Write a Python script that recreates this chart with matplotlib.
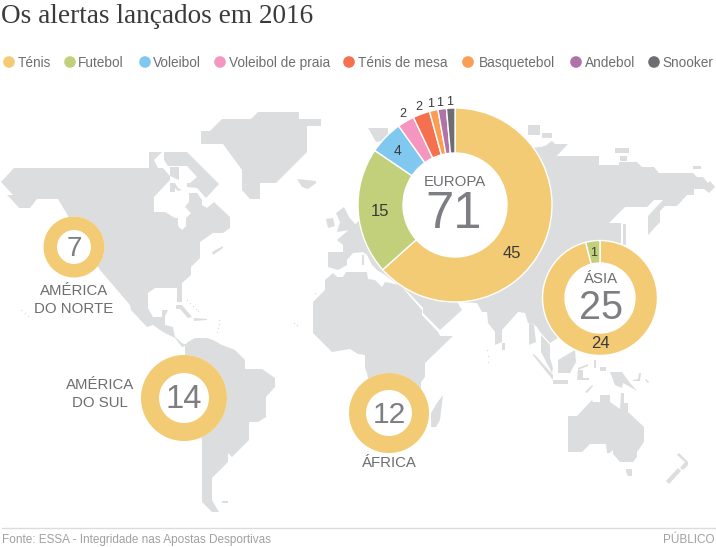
import matplotlib
matplotlib.use("Agg")
import matplotlib.pyplot as plt
from matplotlib.patches import Polygon, Circle

plt.rcParams['font.family'] = ['Liberation Sans', 'DejaVu Sans']

# sports, in legend order
sports = ["Ténis", "Futebol", "Voleibol", "Voleibol de praia", "Ténis de mesa",
          "Basquetebol", "Andebol", "Snooker"]
sport_colors = ["#f3cb74", "#c2d07c", "#80c8f0", "#f596c0", "#f4704f",
                "#fb9d52", "#b072a8", "#6d6e71"]
legend_dot_x = [9, 70, 145, 220, 349, 468, 576, 654]
legend_text_x = [18, 78, 153, 229, 358, 479, 585, 662]

# alerts per continent
europa = [45, 15, 4, 2, 2, 1, 1, 1]
asia = [24, 1]
america_norte = [7]
america_sul = [14]
africa = [12]

# land outlines, in pixels
eurasia = [(337, 240), (345, 233), (355, 225), (400, 170), (500, 140), (533, 148), (545, 146),
           (552, 141), (555, 144), (568, 144), (553, 160), (557, 156), (599, 156), (599, 165),
           (619, 165), (619, 162), (637, 162), (642, 167), (654, 167), (659, 173), (693, 173),
           (697, 177), (703, 177), (708, 183), (710, 181), (715, 187), (709, 193), (704, 189),
           (694, 189), (694, 195), (687, 195), (677, 206), (665, 206), (660, 211), (660, 222),
           (648, 235), (648, 216), (663, 200), (654, 200), (647, 207), (625, 207), (609, 223),
           (621, 223), (621, 245), (610, 300), (575, 335), (558, 338), (550, 343), (540, 332),
           (537, 327), (533, 324), (528, 323), (525, 313), (518, 312), (502, 330), (502, 342),
           (495, 345), (495, 332), (488, 323), (487, 312), (482, 312), (477, 303), (457, 302),
           (462, 310), (440, 330), (423, 313), (423, 308), (408, 292), (385, 275), (377, 270),
           (372, 265), (367, 255), (363, 252), (353, 253), (347, 260), (347, 265), (338, 270),
           (328, 267), (328, 252), (343, 252), (343, 245)]
namerica = [(1, 182), (14, 168), (149, 168), (149, 152), (162, 152), (154, 160), (158, 168),
            (163, 168), (170, 176), (170, 180), (154, 197), (154, 212), (165, 212), (175, 218),
            (178, 218), (178, 226), (182, 230), (186, 226), (186, 218), (191, 213), (185, 207),
            (189, 202), (189, 193), (197, 193), (202, 200), (202, 205), (207, 208), (214, 202),
            (230, 217), (230, 228), (223, 233), (213, 233), (200, 242), (200, 258), (191, 267),
            (191, 275), (182, 283), (182, 302), (177, 302), (177, 288), (155, 288), (148, 293),
            (148, 308), (153, 317), (162, 317), (162, 310), (168, 310), (165, 316), (165, 325),
            (173, 327), (175, 337), (182, 343), (187, 345), (182, 347), (175, 338), (163, 332),
            (153, 325), (147, 327), (131, 310), (130, 305), (100, 270), (58, 199), (37, 199),
            (30, 208), (19, 208), (12, 200), (7, 195), (13, 195)]
samerica = [(185, 345), (188, 342), (195, 338), (207, 338), (213, 340), (222, 345), (235, 350),
            (245, 360), (245, 369), (262, 369), (275, 378), (275, 387), (266, 397), (266, 417),
            (258, 422), (249, 422), (249, 440), (232, 457), (228, 453), (228, 462), (212, 478),
            (212, 500), (219, 512), (212, 512), (202, 502), (202, 440), (185, 400)]
africa_land = [(333, 273), (337, 277), (343, 277), (346, 272), (367, 272), (368, 279), (375, 280),
               (382, 287), (385, 282), (400, 285), (407, 293), (422, 310), (422, 315), (438, 332),
               (440, 336), (453, 336), (425, 363), (425, 377), (421, 382), (421, 397), (370, 397),
               (368, 377), (365, 367), (365, 355), (358, 354), (350, 349), (332, 352), (313, 333),
               (313, 302), (325, 290), (325, 280)]
greenland = [(201, 131), (210, 131), (222, 119), (251, 119), (258, 112), (299, 112), (299, 119),
             (321, 119), (321, 126), (307, 126), (307, 152), (276, 183), (260, 183), (260, 199),
             (250, 199), (242, 190), (242, 170), (223, 144), (201, 144)]
australia = [(568, 416), (577, 416), (592, 400), (593, 402), (600, 402), (600, 395), (610, 395),
             (610, 402), (620, 409), (621, 393), (624, 393), (624, 403), (628, 403), (628, 412),
             (644, 427), (644, 442), (637, 452), (637, 457), (633, 462), (620, 462), (613, 454),
             (613, 450), (610, 453), (607, 453), (606, 444), (590, 444), (582, 452), (568, 452)]
islands = [
    [(164, 152), (187, 152), (219, 184), (206, 198), (197, 188), (187, 187), (187, 183),
     (190, 183), (197, 177), (187, 166), (168, 166), (164, 160)],  # Baffin
    [(170, 167), (179, 167), (179, 180), (170, 176)],
    [(170, 183), (175, 183), (178, 188), (182, 190), (178, 191), (175, 188), (175, 192), (170, 192)],
    [(212, 252), (223, 246), (223, 248), (213, 255)],
    [(297, 179), (316, 181), (316, 183), (308, 189), (302, 187)],  # Islandia
    [(344, 207), (349, 217), (356, 225), (350, 230), (337, 232), (340, 222), (336, 213)],  # Grã-Bretanha
    [(326, 219), (333, 218), (335, 226), (328, 228)],
    [(362, 255), (364, 255), (364, 265), (362, 265)],
    [(368, 128), (388, 128), (388, 140), (376, 142), (372, 135)],
    [(528, 125), (540, 125), (540, 135), (528, 135)],
    [(542, 133), (552, 133), (552, 138), (542, 138)],
    [(615, 148), (629, 148), (629, 153), (615, 153)],
    [(620, 156), (627, 156), (627, 161), (620, 161)],
    [(693, 166), (701, 166), (701, 169), (693, 169)],
    [(443, 395), (440, 420), (436, 427), (431, 427), (431, 413), (437, 403)],  # Madagáscar
    [(502, 343), (505, 343), (505, 350), (502, 350)],
    [(623, 224), (626, 224), (626, 245), (623, 245)],
    [(529, 323), (534, 325), (536, 342), (529, 345)],
    [(541, 335), (550, 345), (550, 358), (553, 368), (552, 373), (541, 352)],
    [(532, 354), (535, 355), (553, 375), (553, 380)],
    [(558, 360), (575, 350), (576, 362), (570, 373), (558, 373)],  # Bornéu
    [(553, 380), (568, 380), (568, 384), (553, 384)],
    [(578, 370), (583, 370), (583, 378), (589, 378), (589, 380), (577, 380)],
    [(578, 368), (588, 364), (588, 366), (578, 370)],
    [(594, 360), (596, 360), (596, 368), (594, 368)],
    [(600, 367), (606, 367), (606, 371), (600, 371)],
    [(610, 372), (622, 372), (630, 383), (637, 391), (632, 388), (623, 383), (622, 388), (615, 385), (612, 377)],
    [(585, 392), (592, 385), (593, 386), (587, 393)],
    [(633, 380), (638, 379), (639, 373), (641, 373), (640, 381), (633, 381)],
    [(645, 380), (646, 379), (649, 382), (648, 383)],
    [(626, 469), (632, 469), (632, 476), (628, 476), (626, 472)],  # Tasmânia
    [(677, 455), (679, 453), (688, 462), (688, 465), (683, 470), (680, 468), (685, 462)],
    [(666, 481), (678, 468), (681, 471), (669, 484)],
    [(176, 305), (182, 305), (192, 317), (188, 318), (180, 309), (176, 309)],  # Cuba
    [(194, 318), (207, 319), (207, 320), (194, 321)],
    [(222, 501), (228, 501), (228, 503), (222, 503)],
]
# very small islands: Caraíbas, Açores, Canárias, Maldivas, Havai
tiny_x = [187, 190, 193, 196, 198, 219, 219, 218, 217, 315, 318, 321, 294, 297, 487, 488, 488, 28, 25, 21]
tiny_y = [300, 303, 306, 309, 311, 320, 324, 328, 332, 293, 324, 325, 323, 325, 350, 356, 362, 316, 313, 310]
land_color = "#dcddde"

fig = plt.figure(figsize=(7.16, 5.47), dpi=100)
ax = fig.add_axes([0, 0, 1, 1])
ax.set_xlim(0, 716)
ax.set_ylim(547, 0)
ax.set_axis_off()

for outline in [eurasia, namerica, samerica, africa_land, greenland, australia] + islands:
    ax.add_patch(Polygon(outline, closed=True, fc=land_color, ec="none", zorder=1))
ax.scatter(tiny_x, tiny_y, s=1, color=land_color, linewidths=0, zorder=1)

# thin gap for Baixa Califórnia
ax.plot([113, 124], [287, 305], color="white", lw=1, zorder=2)


def donut(values, x, y, r_out, r_in, edge=True):
    colors = sport_colors[:len(values)]
    # y axis points down, so counterclock here is clockwise on screen
    ax.add_patch(Circle((x, y), r_out, fc="white", ec="none", zorder=2))
    wedges, _ = ax.pie(values, colors=colors, center=(x, y), radius=r_out, startangle=-90,
                       counterclock=True, frame=True,
                       wedgeprops=dict(width=r_out - r_in, edgecolor="white" if edge else "none",
                                       linewidth=1))
    for w in wedges:
        w.set_zorder(3)


donut(europa, 455, 205, 97, 52)
donut(asia, 600, 298, 57.5, 35)
donut(america_norte, 74, 247, 30.5, 17, edge=False)
donut(america_sul, 184, 398, 43, 25, edge=False)
donut(africa, 389, 413, 40, 23, edge=False)
ax.set_xlim(0, 716)
ax.set_ylim(547, 0)
ax.set_aspect("auto")
ax.set_axis_off()

grey = "#6d6e71"
dark = "#3a3a3c"
total_grey = "#7d7e82"


def centered(x, y, s, size, color=grey):
    ax.text(x, y, s, fontsize=size, color=color, ha="center", va="center", zorder=5)


# totals in the middle of each ring
centered(453.5, 215, str(sum(europa)), 36.5, total_grey)
centered(601, 308, str(sum(asia)), 28.5, total_grey)
centered(74, 249, str(sum(america_norte)), 20, total_grey)
centered(184, 400, str(sum(america_sul)), 23.5, total_grey)
centered(389, 415, str(sum(africa)), 21.5, total_grey)

# continent names
centered(455, 182, "EUROPA", 10.8)
centered(601, 279, "ÁSIA", 10.8)
centered(74, 291, "AMÉRICA", 10.8)
centered(74, 309, "DO NORTE", 10.8)
centered(100, 385, "AMÉRICA", 10.8)
centered(100, 403, "DO SUL", 10.8)
centered(389, 463, "ÁFRICA", 10.8)

# slice values
europa_label_x = [512, 380, 398, 403, 419, 431, 440, 450]
europa_label_y = [253, 211, 151, 114, 107, 104, 103, 102]
europa_label_size = [12, 12, 10, 9, 9, 9, 9, 9]
for v, lx, ly, fs in zip(europa, europa_label_x, europa_label_y, europa_label_size):
    centered(lx, ly, str(v), fs, dark)
centered(600, 344, str(asia[0]), 12, dark)
centered(594, 253, str(asia[1]), 9, dark)

# legend
for name, col, dx, tx in zip(sports, sport_colors, legend_dot_x, legend_text_x):
    ax.add_patch(Circle((dx, 62), 5.8, fc=col, ec="none", zorder=5))
    ax.text(tx, 67, name, fontsize=9.85, color=grey, ha="left", va="baseline", zorder=5)

ax.text(1, 23, "Os alertas lançados em 2016", family="Liberation Serif", fontsize=19.6,
        color="#3a3a3c", ha="left", va="baseline")

# footer
ax.plot([2, 716], [527.5, 527.5], color="#dcdcdc", lw=1)
ax.text(2, 543, "Fonte: ESSA - Integridade nas Apostas Desportivas", fontsize=8.5, color="#a0a0a0",
        ha="left", va="baseline")
ax.text(715, 543, "PÚBLICO", fontsize=8.5, color="#a0a0a0", ha="right", va="baseline")

fig.savefig("out.png", dpi=100)
